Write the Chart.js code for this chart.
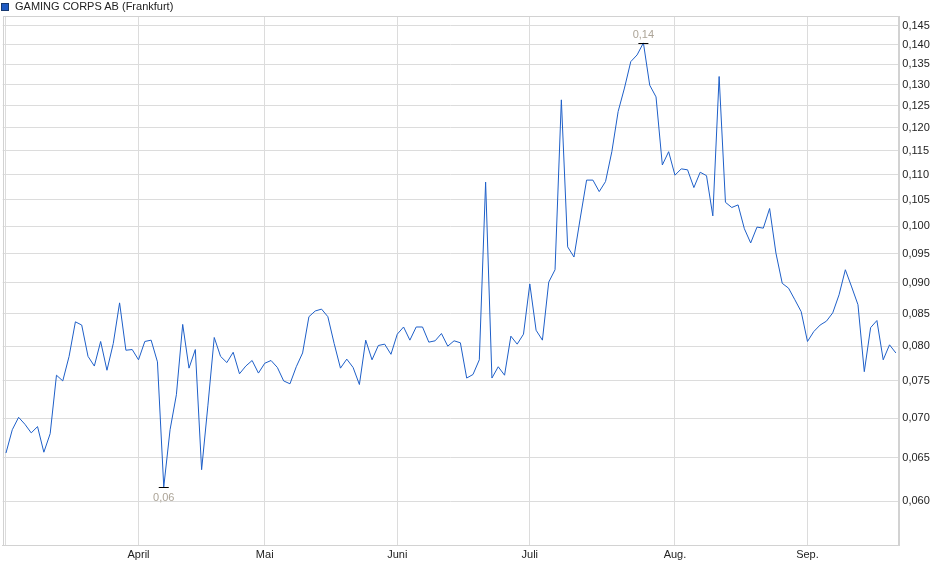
<!DOCTYPE html>
<html>
<head>
    <title>GAMING CORPS AB (Frankfurt)</title>
    <script src="https://cdn.jsdelivr.net/npm/chart.js"></script>
    <style>
        body {
            margin: 0;
            background: #fff;
            font-family: "Liberation Sans", Arial, sans-serif;
        }
        .chart-box {
            position: relative;
            width: 940px;
            height: 579px;
        }
        .legend-box {
            position: absolute;
            left: 1px;
            top: 3px;
            width: 6px;
            height: 6px;
            background: #1f5bc4;
            border: 1px solid #17396f;
        }
        .legend-text {
            position: absolute;
            left: 15px;
            top: 0;
            font-size: 11px;
            line-height: 13px;
            color: #222;
        }
    </style>
</head>
<body>
    <div class="chart-box">
        <div class="legend-box"></div>
        <div class="legend-text">GAMING CORPS AB (Frankfurt)</div>
        <canvas id="priceChart"></canvas>
    </div>

    <script>
        // daily closing prices, one per trading day
        const prices = [
            0.0656, 0.0685, 0.0701, 0.0692, 0.0681, 0.0689, 0.0657, 0.0680, 0.0758, 0.0750,
            0.0785, 0.0837, 0.0832, 0.0785, 0.0771, 0.0807, 0.0765, 0.0804, 0.0867, 0.0794,
            0.0795, 0.0780, 0.0807, 0.0809, 0.0777, 0.0616, 0.0685, 0.0731, 0.0833, 0.0768,
            0.0795, 0.0636, 0.0717, 0.0813, 0.0785, 0.0776, 0.0791, 0.0760, 0.0771, 0.0779,
            0.0761, 0.0775, 0.0779, 0.0769, 0.0750, 0.0746, 0.0770, 0.0790, 0.0845, 0.0854,
            0.0857, 0.0845, 0.0804, 0.0768, 0.0781, 0.0769, 0.0745, 0.0809, 0.0780, 0.0801,
            0.0803, 0.0788, 0.0818, 0.0829, 0.0809, 0.0829, 0.0829, 0.0806, 0.0808, 0.0819,
            0.0800, 0.0808, 0.0805, 0.0754, 0.0759, 0.0780, 0.1085, 0.0754, 0.0770, 0.0758,
            0.0815, 0.0803, 0.0818, 0.0898, 0.0824, 0.0809, 0.0901, 0.0922, 0.1264, 0.0962,
            0.0944, 0.1015, 0.1089, 0.1089, 0.1066, 0.1086, 0.1148, 0.1237, 0.1292, 0.1357,
            0.1374, 0.1405, 0.1299, 0.1271, 0.1120, 0.1148, 0.1099, 0.1112, 0.1110, 0.1074,
            0.1105, 0.1098, 0.1019, 0.1320, 0.1045, 0.1035, 0.1040, 0.0995, 0.0969, 0.0998,
            0.0996, 0.1033, 0.0951, 0.0899, 0.0891, 0.0872, 0.0853, 0.0807, 0.0822, 0.0832,
            0.0838, 0.0851, 0.0880, 0.0922, 0.0893, 0.0864, 0.0763, 0.0828, 0.0839, 0.0780,
            0.0802, 0.0790
        ];

        // first trading day of each month (index into prices)
        const monthStarts = [0, 21, 41, 62, 83, 106, 127];
        const monthLabels = ['', 'April', 'Mai', 'Juni', 'Juli', 'Aug.', 'Sep.'];

        const yTicks = [0.060, 0.065, 0.070, 0.075, 0.080, 0.085, 0.090, 0.095,
                        0.100, 0.105, 0.110, 0.115, 0.120, 0.125, 0.130, 0.135, 0.140, 0.145];

        const FONT = '"Liberation Sans", Arial, sans-serif';
        const GRID = '#dcdcdc';

        const framePlugin = {
            id: 'frame',
            afterDraw(chart) {
                const ctx = chart.ctx;
                const a = chart.chartArea;
                ctx.save();
                ctx.strokeStyle = '#d2d2d2';
                ctx.lineWidth = 1;
                ctx.strokeRect(Math.round(a.left) + 0.5, Math.round(a.top) + 0.5,
                    Math.round(a.right - a.left), Math.round(a.bottom - a.top));
                ctx.restore();
            }
        };

        // high / low markers with their labels
        const extremesPlugin = {
            id: 'extremes',
            afterDatasetsDraw(chart) {
                const xs = chart.scales.x;
                const ys = chart.scales.y;
                const ctx = chart.ctx;
                const hi = prices.indexOf(Math.max(...prices));
                const lo = prices.indexOf(Math.min(...prices));
                ctx.save();
                ctx.font = '11px ' + FONT;
                ctx.textAlign = 'center';
                ctx.textBaseline = 'middle';
                [[hi, -9], [lo, 10]].forEach(([i, off]) => {
                    const px = xs.getPixelForValue(i);
                    const py = Math.round(ys.getPixelForValue(prices[i])) + 0.5;
                    ctx.strokeStyle = '#000';
                    ctx.lineWidth = 1;
                    ctx.beginPath();
                    ctx.moveTo(px - 5, py);
                    ctx.lineTo(px + 5, py);
                    ctx.stroke();
                    ctx.fillStyle = '#aca497';
                    ctx.fillText(prices[i].toFixed(2).replace('.', ','), px, py + off);
                });
                ctx.restore();
            }
        };

        new Chart(document.getElementById('priceChart'), {
            type: 'line',
            data: {
                datasets: [{
                    label: 'GAMING CORPS AB (Frankfurt)',
                    data: prices.map((v, i) => ({ x: i, y: v })),
                    borderColor: '#1e5fc8',
                    borderWidth: 1,
                    pointRadius: 0,
                    tension: 0,
                    fill: false
                }]
            },
            options: {
                responsive: true,
                maintainAspectRatio: false,
                animation: false,
                layout: { padding: { left: 2.7, top: 16, right: 0, bottom: 0 } },
                plugins: {
                    legend: { display: false },
                    tooltip: { enabled: false }
                },
                scales: {
                    x: {
                        type: 'linear',
                        min: -0.52,
                        max: 141.39,
                        afterBuildTicks: s => { s.ticks = monthStarts.map(v => ({ value: v })); },
                        afterFit: s => { s.height = 34; },
                        grid: { color: GRID, drawTicks: false },
                        border: { color: '#d2d2d2' },
                        ticks: {
                            padding: 3,
                            autoSkip: false,
                            maxRotation: 0,
                            color: '#222',
                            font: { family: FONT, size: 11 },
                            callback: (v, i) => monthLabels[i]
                        }
                    },
                    y: {
                        type: 'logarithmic',
                        position: 'right',
                        min: 0.0553,
                        max: 0.1477,
                        afterBuildTicks: s => { s.ticks = yTicks.map(v => ({ value: v })); },
                        afterFit: s => { s.width = 41.7; },
                        grid: { color: GRID, drawTicks: false },
                        border: { color: '#d2d2d2' },
                        ticks: {
                            padding: 4,
                            autoSkip: false,
                            color: '#222',
                            font: { family: FONT, size: 11 },
                            callback: v => Number(v).toFixed(3).replace('.', ',')
                        }
                    }
                }
            },
            plugins: [framePlugin, extremesPlugin]
        });
    </script>
</body>
</html>
